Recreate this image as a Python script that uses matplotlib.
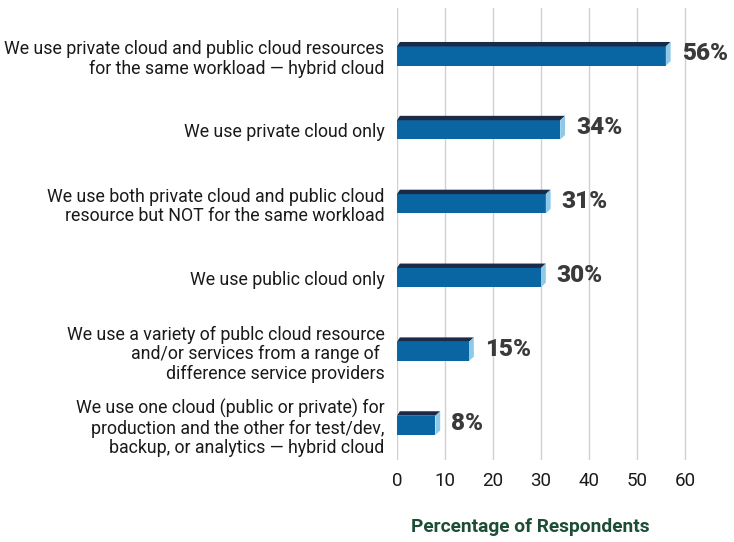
import matplotlib
matplotlib.use("Agg")
import matplotlib.pyplot as plt
from matplotlib.patches import Polygon

categories = [
    "We use private cloud and public cloud resources\nfor the same workload \u2014 hybrid cloud",
    "We use private cloud only",
    "We use both private cloud and public cloud\nresource but NOT for the same workload",
    "We use public cloud only",
    "We use a variety of publc cloud resource\nand/or services from a range of \ndifference service providers",
    "We use one cloud (public or private) for\nproduction and the other for test/dev,\nbackup, or analytics \u2014 hybrid cloud",
]
values = [56, 34, 31, 30, 15, 8]
xticks = [0, 10, 20, 30, 40, 50, 60]
xlabel = "Percentage of Respondents"

plt.rcParams["font.family"] = ["Roboto", "DejaVu Sans"]

W, H = 734, 542
fig = plt.figure(figsize=(W / 100, H / 100), dpi=100)
left, right, top, bottom = 397, 709, 8, 460
ax = fig.add_axes([left / W, 1 - bottom / H, (right - left) / W, (bottom - top) / H])

xmax = 65
ax.set_xlim(0, xmax)
ax.set_ylim(5.47, -0.65)

front = "#0a66a3"
topc = "#1c2a4a"
sidec = "#8ec9e8"
h = 0.26
dx = 1.0
dy = 0.06

ypos = list(range(len(values)))
ax.barh(ypos, values, height=h, color=front, zorder=3)
for y, v in zip(ypos, values):
    yt = y - h / 2
    ax.add_patch(Polygon([(0, yt), (dx * 0.6, yt - dy), (v + dx, yt - dy), (v, yt)],
                         closed=True, color=topc, zorder=3, lw=0))
    ax.add_patch(Polygon([(v, yt), (v + dx, yt - dy), (v + dx, y + h / 2 - dy), (v, y + h / 2)],
                         closed=True, color=sidec, zorder=3, lw=0))
    ax.text(v + dx + 2.3, y - 0.03, f"{v}%", va="center", ha="left",
            fontsize=17.5, fontweight="heavy", color="#3a3a3a")

ax.set_yticks(ypos)
ax.set_yticklabels(categories, fontsize=12.8, color="#1a1a1a", linespacing=1.12)
ax.set_xticks(xticks)
ax.set_xticklabels([str(t) for t in xticks], fontsize=13.5, color="#1a1a1a")
ax.tick_params(axis="both", length=0)
ax.tick_params(axis="y", pad=9)
ax.tick_params(axis="x", pad=9)
ax.xaxis.grid(True, color="#d0d0d0", lw=1, zorder=0)
ax.set_axisbelow(True)
for s in ax.spines.values():
    s.set_visible(False)

fig.text(530 / W, 1 - 527 / H, xlabel, ha="center", va="center", fontsize=13.8,
         fontweight="bold", color="#1e4d36")

fig.savefig("out.png", dpi=100)
